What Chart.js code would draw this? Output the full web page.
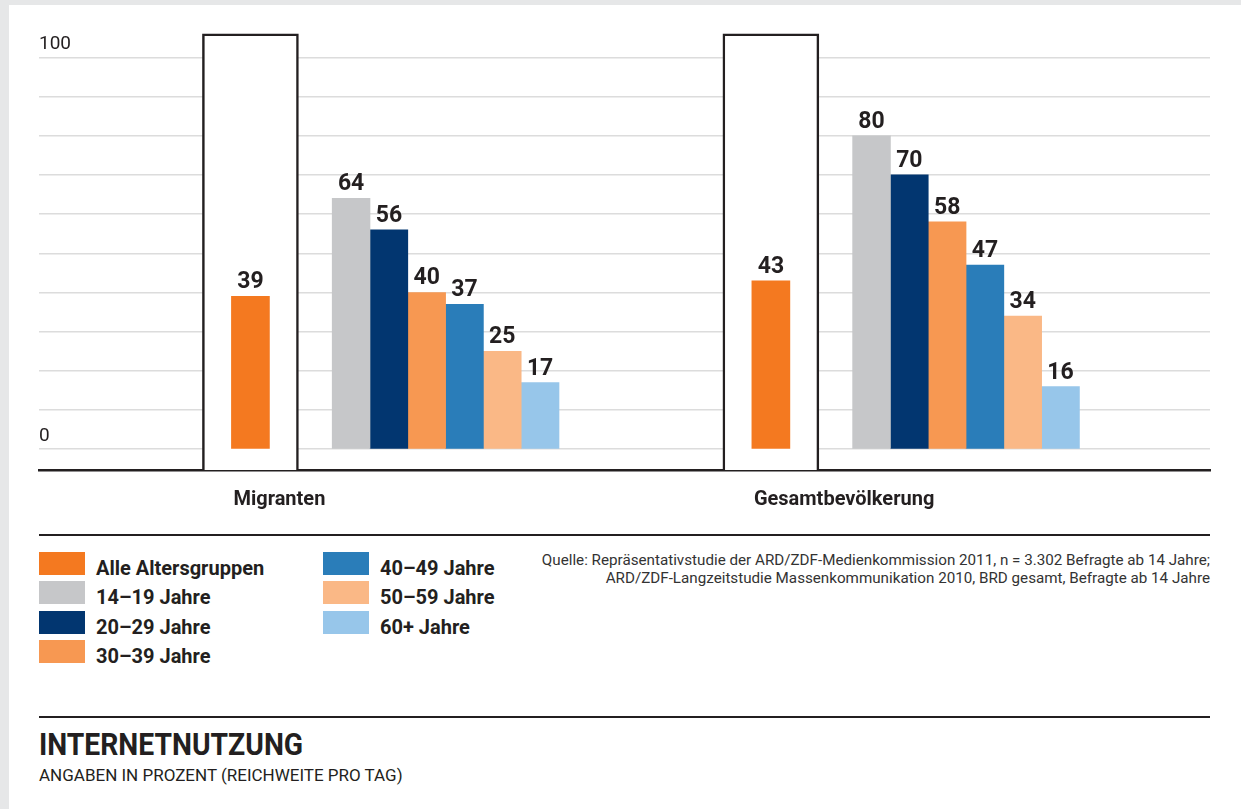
<!DOCTYPE html>
<html>
<head>
<meta charset="utf-8">
<script src="https://cdn.jsdelivr.net/npm/chart.js@4.4.1/dist/chart.umd.min.js"></script>
<style>
  html, body { margin: 0; padding: 0; }
  body { width: 1241px; height: 809px; background: #e6e7e8; position: relative; overflow: hidden;
         font-family: Roboto, "Noto Sans", sans-serif; color: #231f20; }
  #panel { position: absolute; left: 9px; top: 5px; right: 0; bottom: 0; background: #fff; }
  #chartWrap { position: absolute; left: 0; top: 0; width: 1241px; height: 530px; }
  .rule { position: absolute; left: 39px; width: 1171px; background: #231f20; }
  .legend-item { position: absolute; height: 23px; }
  .legend-box { position: absolute; left: 0; top: 0; width: 46px; height: 23px; }
  .legend-text { position: absolute; left: 57px; white-space: nowrap; font-weight: 700; font-size: 20px; line-height: 20px; top: 6px; }
  #source { position: absolute; right: 31px; top: 551px; text-align: right; font-size: 15.2px; line-height: 18px; color: #333; white-space: nowrap; }
  #title { position: absolute; left: 39px; top: 729px; font-size: 31px; line-height: 31px; font-weight: 700; white-space: nowrap; transform-origin: 0 0; transform: scaleX(0.912); }
  #subtitle { position: absolute; left: 39px; top: 767px; font-size: 17px; line-height: 17px; white-space: nowrap; }
</style>
</head>
<body>
<div id="panel"></div>
<div id="chartWrap"><canvas id="c" width="1241" height="530"></canvas></div>
<div class="rule" style="top:534px;height:1.5px;"></div>
<div id="legend"></div>
<div id="source">Quelle: Repräsentativstudie der ARD/ZDF-Medienkommission 2011, n = 3.302 Befragte ab 14 Jahre;<br>ARD/ZDF-Langzeitstudie Massenkommunikation 2010, BRD gesamt, Befragte ab 14 Jahre</div>
<div class="rule" style="top:715.5px;height:2px;"></div>
<div id="title">INTERNETNUTZUNG</div>
<div id="subtitle">ANGABEN IN PROZENT (REICHWEITE PRO TAG)</div>
<script>
// ---------- DATA ----------
const categories = ['Migranten', 'Gesamtbevölkerung'];
const seriesNames = ['Alle Altersgruppen', '14–19 Jahre', '20–29 Jahre', '30–39 Jahre', '40–49 Jahre', '50–59 Jahre', '60+ Jahre'];
const seriesColors = ['#f47920', '#c6c7c9', '#023670', '#f79852', '#2a7db9', '#fab886', '#97c6ea'];
const allAges   = [39, 43];
const age14to19 = [64, 80];
const age20to29 = [56, 70];
const age30to39 = [40, 58];
const age40to49 = [37, 47];
const age50to59 = [25, 34];
const age60plus = [17, 16];
const yTickValues = [0, 10, 20, 30, 40, 50, 60, 70, 80, 90, 100];
const yTickLabels = [0, 100];

// ---------- LAYOUT (options, not data) ----------
const SLOT_COUNT = 36;          // category slots across the plot
const HIGHLIGHT_SLOT = [6, 22]; // slot of the framed "Alle Altersgruppen" bar per group
const GROUP_SLOT = [12, 28];    // slot of the age-group cluster per group
const Y_MIN = -5.3, Y_MAX = 108, FRAME_TOP = 106;
const INK = '#231f20';

function toSlots(values, slots) {
  const a = new Array(SLOT_COUNT).fill(null);
  values.forEach((v, i) => { a[slots[i]] = v; });
  return a;
}
const slotLabels = toSlots(categories, HIGHLIGHT_SLOT).map(v => v === null ? '' : v);

const ageSeries = [age14to19, age20to29, age30to39, age40to49, age50to59, age60plus];

const datasets = [
  {
    label: seriesNames[0], data: toSlots(allAges, HIGHLIGHT_SLOT),
    backgroundColor: seriesColors[0], grouped: false, barThickness: 38, order: 0, showValue: true
  },
  ...ageSeries.map((vals, i) => ({
    label: seriesNames[i + 1], data: toSlots(vals, GROUP_SLOT),
    backgroundColor: seriesColors[i + 1], barThickness: 37.8, order: 1, showValue: true
  })),
  {
    label: 'frame', data: toSlots(categories.map(() => [Y_MIN, FRAME_TOP]), HIGHLIGHT_SLOT),
    backgroundColor: '#ffffff', borderColor: INK, borderWidth: 2.5, borderSkipped: 'start',
    grouped: false, barThickness: 96, order: 2, showValue: false
  }
];

const valueLabels = {
  id: 'valueLabels',
  afterDatasetsDraw(chart) {
    const ctx = chart.ctx;
    ctx.save();
    ctx.fillStyle = INK;
    ctx.font = '700 23px Roboto, "Noto Sans", sans-serif';
    ctx.textAlign = 'center';
    ctx.textBaseline = 'alphabetic';
    chart.data.datasets.forEach((ds, di) => {
      if (!ds.showValue) return;
      const meta = chart.getDatasetMeta(di);
      meta.data.forEach((el, i) => {
        const v = ds.data[i];
        if (v === null || v === undefined) return;
        ctx.fillText(String(v), el.x, el.y - 8);
      });
    });
    ctx.restore();
  }
};

const chart = new Chart(document.getElementById('c'), {
  type: 'bar',
  data: { labels: slotLabels, datasets },
  options: {
    responsive: false,
    animation: false,
    layout: { padding: { left: 39, right: 31, top: 26, bottom: 0 } },
    plugins: { legend: { display: false }, tooltip: { enabled: false } },
    scales: {
      x: {
        type: 'category', offset: true,
        grid: { display: false, drawTicks: false },
        border: { display: true, color: INK, width: 2.5 },
        ticks: {
          autoSkip: false, maxRotation: 0, minRotation: 0, align: 'start', labelOffset: -17, padding: 18,
          color: INK, font: { family: 'Roboto', size: 20, weight: '700' }
        }
      },
      y: {
        min: Y_MIN, max: Y_MAX,
        afterBuildTicks: s => { s.ticks = yTickValues.map(v => ({ value: v })); },
        grid: { color: '#dcdcdc', lineWidth: 1.5, drawTicks: false },
        border: { display: false },
        ticks: {
          mirror: true, padding: 0, labelOffset: -13, color: INK,
          font: { family: 'Roboto', size: 19 },
          callback: v => yTickLabels.includes(v) ? String(v) : ''
        }
      }
    }
  },
  plugins: [valueLabels]
});

// ---------- HTML legend built from series arrays ----------
const legend = document.getElementById('legend');
seriesNames.forEach((name, i) => {
  const col = i < 4 ? 0 : 1;
  const row = i < 4 ? i : i - 4;
  const item = document.createElement('div');
  item.className = 'legend-item';
  item.style.left = (39 + col * 284) + 'px';
  item.style.top = (552 + row * 29.4) + 'px';
  item.innerHTML = '<div class="legend-box" style="background:' + seriesColors[i] + '"></div><div class="legend-text">' + name + '</div>';
  legend.appendChild(item);
});
</script>
</body>
</html>
